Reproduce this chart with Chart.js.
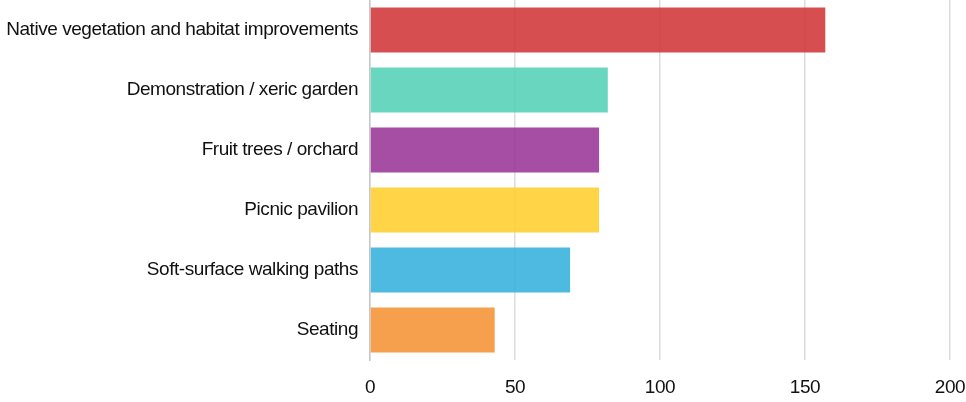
<!DOCTYPE html>
<html>
<head>
<meta charset="utf-8">
<script src="https://cdn.jsdelivr.net/npm/chart.js@4"></script>
<style>
  html, body { margin: 0; padding: 0; background: #fff; }
  #wrap { width: 966px; height: 402px; }
</style>
</head>
<body>
<div id="wrap"><canvas id="grafico"></canvas></div>
<script>
// dati
const categorie = [
  "Native vegetation and habitat improvements",
  "Demonstration / xeric garden",
  "Fruit trees / orchard",
  "Picnic pavilion",
  "Soft-surface walking paths",
  "Seating"
];
const valori = [157, 82, 79, 79, 69, 43];
const colori = [
  "rgba(209,53,56,0.88)",
  "rgba(84,210,182,0.88)",
  "rgba(152,54,151,0.88)",
  "rgba(255,206,45,0.88)",
  "rgba(54,176,222,0.88)",
  "rgba(245,146,52,0.88)"
];
const tickX = [0, 50, 100, 150, 200];

window.onload = ()=>{
  disegnaGrafico(document.getElementById("grafico"));
}

// testo un po' stretto come nell'originale
const stretto = {
  id: 'stretto',
  beforeUpdate: (chart)=>{ chart.ctx.letterSpacing = '-0.45px'; },
  beforeDraw: (chart)=>{ chart.ctx.letterSpacing = '-0.45px'; }
};

function disegnaGrafico(canvas){
  Chart.defaults.font.family = "'Liberation Sans', Arial, sans-serif";
  Chart.defaults.font.size = 19;
  Chart.defaults.color = '#111';

  new Chart(canvas, {
    type: 'bar',
    data: {
      labels: categorie,
      datasets: [{
        data: valori,
        backgroundColor: colori,
        borderWidth: 0,
        barPercentage: 0.75,
        categoryPercentage: 1
      }]
    },
    options: {
      indexAxis: 'y',
      responsive: true,
      maintainAspectRatio: false,
      animation: false,
      layout: { padding: 0 },
      plugins: {
        legend: { display: false },
        tooltip: { enabled: false }
      },
      scales: {
        x: {
          min: 0,
          max: 200,
          afterBuildTicks: (s)=>{ s.ticks = tickX.map(v => ({ value: v })); },
          afterFit: (s)=>{ s.height = 42; s.paddingLeft = 0; s.paddingRight = 16; },
          grid: { color: '#dcdcdc', lineWidth: 1.5, drawTicks: false },
          border: { display: false },
          ticks: { padding: 16, color: '#111' }
        },
        y: {
          afterFit: (s)=>{ s.width = 370; s.paddingTop = 0; s.paddingBottom = 0; },
          grid: { display: false, drawTicks: false },
          border: { display: true, color: '#c8c8c8', width: 1.5 },
          ticks: { padding: 12, color: '#111' }
        }
      }
    },
    plugins: [stretto]
  });
}
</script>
</body>
</html>
